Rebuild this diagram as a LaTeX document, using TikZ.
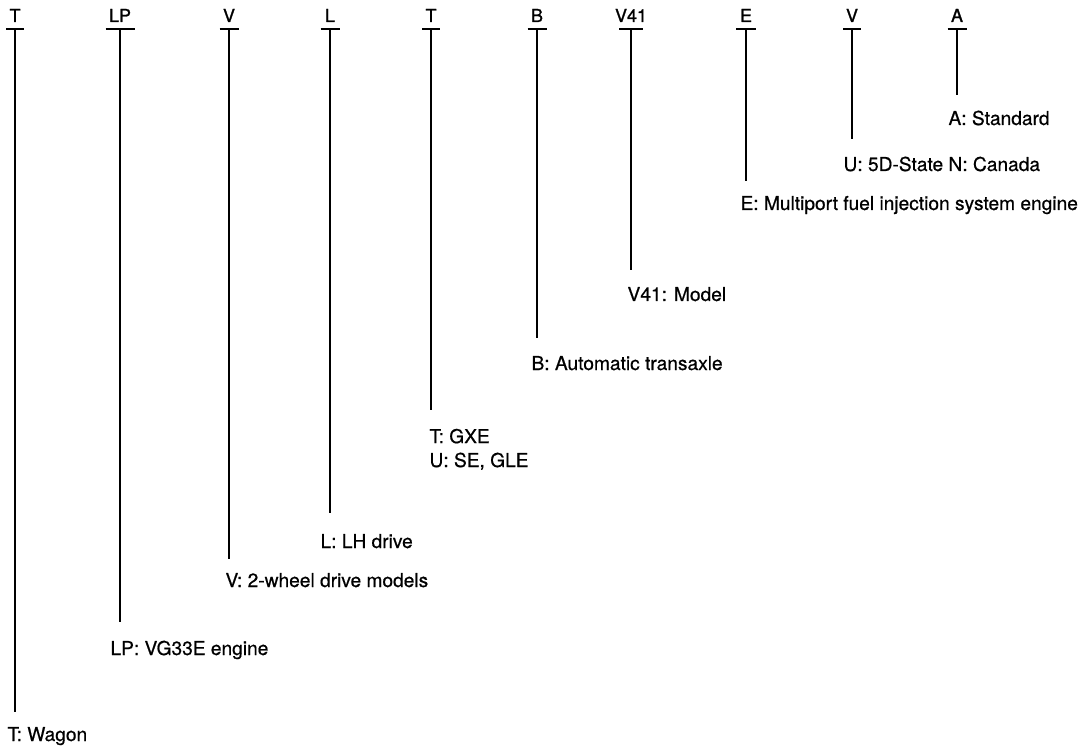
\documentclass[tikz,border=0pt]{standalone}
\usepackage{fontspec}
\setmainfont{TeX Gyre Heros}[FakeBold=0.6]
\newfontfamily\codefont{TeX Gyre Heros}[FakeBold=1.3]
\begin{document}
\begin{tikzpicture}[x=0.02cm, y=-0.02cm, line width=0.6pt,
  code/.style={font=\codefont\fontsize{10.2}{12}\selectfont, anchor=base, inner sep=0pt},
  desc/.style={font=\fontsize{10.9}{13.6}\selectfont, anchor=base west, inner sep=0pt, align=left}]
\useasboundingbox (0,0) rectangle (1087,749);
% code letters with their tick
\node[code] (c1) at (15,22) {T};     \coordinate (t1) at (15,29);
\node[code] (c2) at (120,22) {LP};   \coordinate (t2) at (120,29);
\node[code] (c3) at (229,22) {V};    \coordinate (t3) at (229,29);
\node[code] (c4) at (330,22) {L};    \coordinate (t4) at (330,29);
\node[code] (c5) at (431,22) {T};    \coordinate (t5) at (431,29);
\node[code] (c6) at (537,22) {B};    \coordinate (t6) at (537,29);
\node[code] (c7) at (631,22) {V41};  \coordinate (t7) at (631,29);
\node[code] (c8) at (746,22) {E};    \coordinate (t8) at (746,29);
\node[code] (c9) at (852,22) {V};    \coordinate (t9) at (852,29);
\node[code] (c10) at (957,22) {A};   \coordinate (t10) at (957,29);
\draw (t1) ++(-9,0) -- ++(18,0);   \draw (t2) ++(-14.5,0) -- ++(29,0);
\draw (t3) ++(-9.5,0) -- ++(19,0); \draw (t4) ++(-9.5,0) -- ++(19,0);
\draw (t5) ++(-9,0) -- ++(18,0);   \draw (t6) ++(-9.5,0) -- ++(19,0);
\draw (t7) ++(-12,0) -- ++(24,0);  \draw (t8) ++(-10,0) -- ++(20,0);
\draw (t9) ++(-9,0) -- ++(18,0);   \draw (t10) ++(-9.5,0) -- ++(19,0);
% line ends
\coordinate (e1) at (15,712);  \coordinate (e2) at (120,622);
\coordinate (e3) at (229,559); \coordinate (e4) at (330,513);
\coordinate (e5) at (431,410); \coordinate (e6) at (537,338);
\coordinate (e7) at (631,270); \coordinate (e8) at (746,181);
\coordinate (e9) at (852,139); \coordinate (e10) at (957,95);
\foreach \i in {1,...,10} \draw (t\i) -- (e\i);
% meanings
\node[desc] (d1) at (7,741) {T: Wagon};
\node[desc] (d2) at (110,655) {LP: VG33E engine};
\node[desc] (d3) at (225,587) {V: 2-wheel drive models};
\node[desc] (d4) at (320,548) {L: LH drive};
\node[desc] (d5) at (429,467) {T: GXE\\U: SE, GLE};
\node[desc] (d6) at (531,370) {B: Automatic transaxle};
\node[desc] (d7) at (627,301) {V41: Model};
\node[desc] (d8) at (740,210) {E: Multiport fuel injection system engine};
\node[desc] (d9) at (843,171) {U: 5D-State N: Canada};
\node[desc] (d10) at (948,125) {A: Standard};
\end{tikzpicture}
\end{document}
